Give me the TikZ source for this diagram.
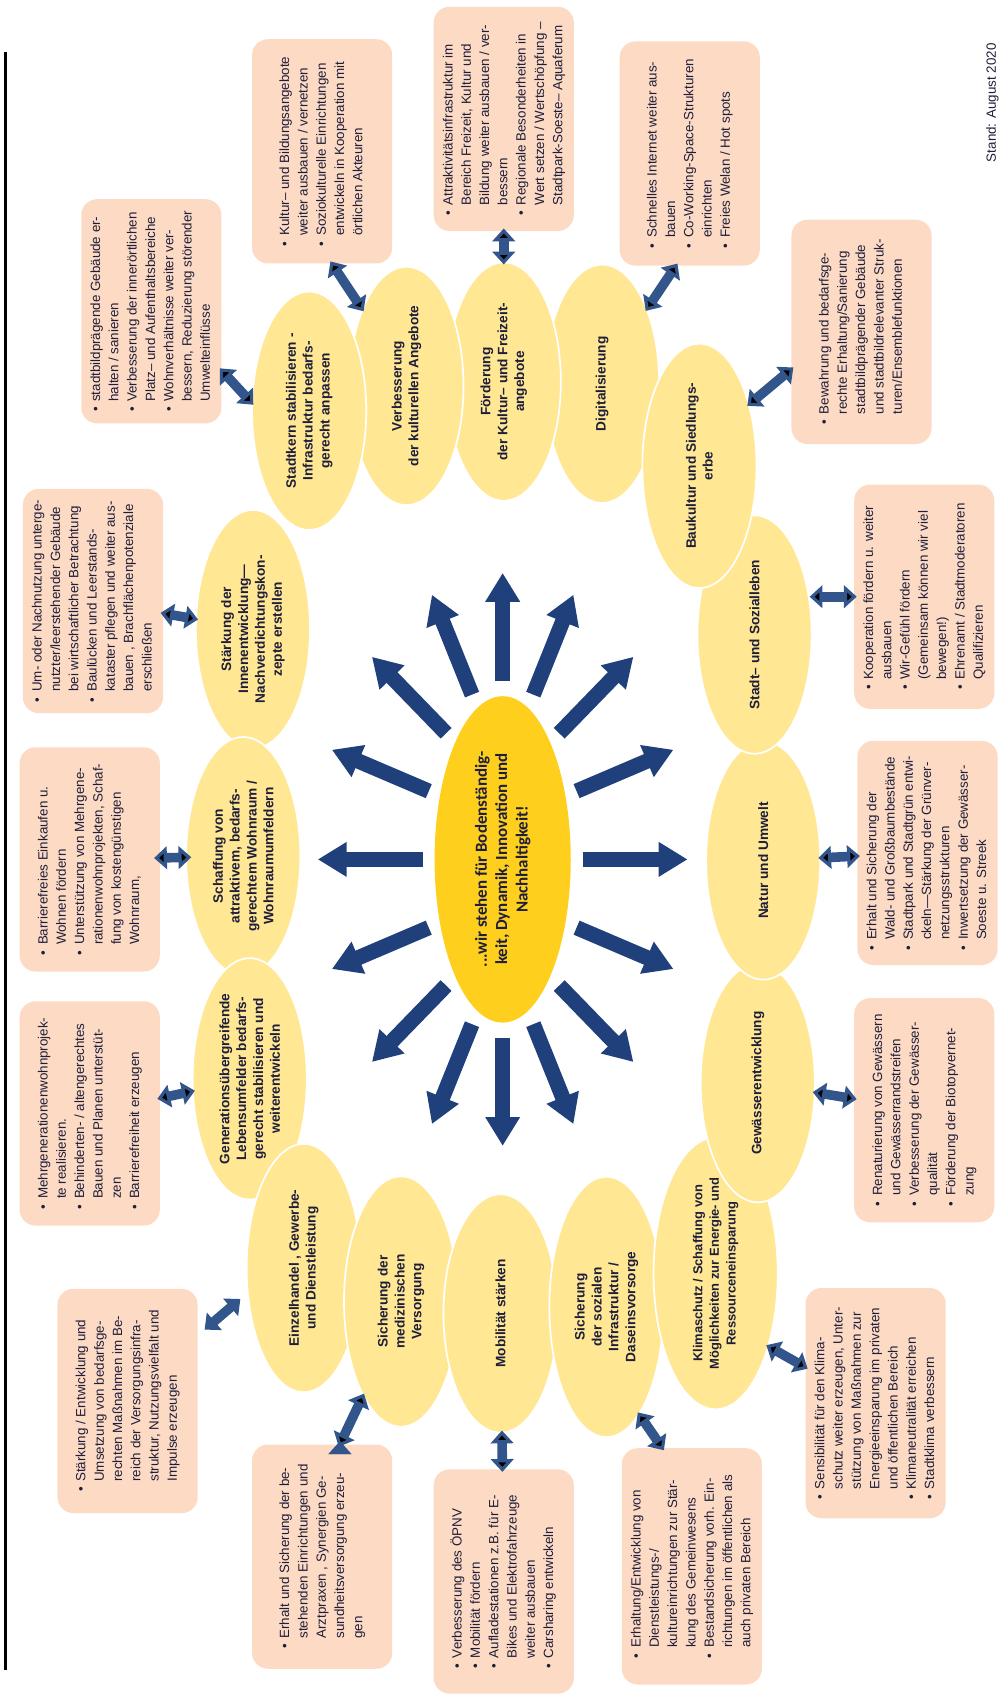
\documentclass[tikz,border=0pt]{standalone}
\usepackage{fontspec}
\setmainfont{Liberation Sans}
\newfontfamily\sunfont{Carlito}
\usetikzlibrary{shapes.geometric,arrows.meta,calc}

\definecolor{peach}{RGB}{252,218,196}
\definecolor{goalyellow}{RGB}{255,231,148}
\definecolor{sungold}{RGB}{255,207,30}
\definecolor{spokeblue}{RGB}{31,64,122}
\definecolor{linkblue}{RGB}{50,86,140}
\definecolor{ink}{RGB}{30,30,58}

\newenvironment{points}{\begin{tabular}{@{}l@{\hspace{4pt}}l@{}}}{\end{tabular}}
\newcommand{\bul}{\textbullet&}

\begin{document}
\begin{tikzpicture}[x=0.027cm, y=-0.027cm,
    goal/.style={ellipse, rotate=90, fill=goalyellow, draw=white, line width=1.2pt,
      minimum width=5.95cm, minimum height=2.85cm, inner sep=0pt, align=center,
      text=ink, font=\bfseries\fontsize{9.7}{12}\selectfont},
    todo/.style={rotate=90, fill=peach, rounded corners=0.4cm, minimum width=5.6cm,
      minimum height=3.5cm, inner sep=0pt, text=ink, font=\fontsize{9.5}{13}\selectfont},
    spoke/.style={draw=spokeblue, line width=0.38cm, -{Triangle[width=0.82cm,length=0.72cm]}},
    link/.style={draw=linkblue, line width=0.24cm, shorten <=-2pt, shorten >=-2pt,
      {Triangle[width=0.56cm,length=0.32cm]}-{Triangle[width=0.56cm,length=0.32cm]}}]
  \useasboundingbox (0,0) rectangle (925,1568);
  \draw[line width=1.8pt] (5,48) -- (5,1545);
  \node[rotate=90, text=ink, font=\fontsize{9.5}{11}\selectfont] (stand) at (918,95) {Stand: August 2020};

  % centre
  \node[ellipse, rotate=90, fill=sungold, minimum width=8.15cm, minimum height=3.4cm, inner sep=0pt,
    align=center, text=ink, font=\sunfont\bfseries\fontsize{12}{14.5}\selectfont] (mid) at (465,795)
    {...wir stehen für Bodenständig-\\keit, Dynamik, Innovation und\\Nachhaltigkeit!};
  \foreach \a in {0,22.5,...,337.5}
    \draw[spoke] ($(mid)+({74*sin(\a)},{-165*cos(\a)})$) -- ($(mid)+({171*sin(\a)},{-265*cos(\a)})$);

  % ring of goals
  \node[goal] (digital) at (557,355) {Digitalisierung};
  \node[goal] (freizeit) at (466,353) {Förderung\\der Kultur– und Freizeit-\\angebote};
  \node[goal] (kultur) at (376,357) {Verbesserung\\der kulturellen Angebote};
  \node[goal] (kern) at (286,380) {Stadtkern stabilisieren -\\Infrastruktur bedarfs-\\gerecht anpassen};
  \node[goal] (innen) at (234,582) {Stärkung der\\Innenentwicklung—\\Nachverdichtungskon-\\zepte erstellen};
  \node[goal] (wohnraum) at (225,792) {Schaffung von\\attraktivem, bedarfs-\\gerechtem Wohnraum /\\Wohnraumumfeldern};
  \node[goal] (generation) at (231,998) {Generationsübergreifende\\Lebensumfelder bedarfs-\\gerecht stabilisieren und\\weiterentwickeln};
  \node[goal, minimum width=6.2cm] (handel) at (281,1173) {Einzelhandel , Gewerbe-\\und Dienstleistung};
  \node[goal, minimum width=6.25cm] (medizin) at (371,1204) {Sicherung der\\medizinischen\\Versorgung};
  \node[goal] (mobil) at (463,1215) {Mobilität stärken};
  \node[goal, minimum width=6.5cm] (daseins) at (561,1209) {Sicherung\\der sozialen\\Infrastruktur /\\Daseinsvorsorge};
  \node[goal, minimum width=6.45cm, minimum height=3.1cm, font=\bfseries\fontsize{9.2}{11.8}\selectfont] (klima) at (662,1178)
    {Klimaschutz / Schaffung von\\Möglichkeiten zur Energie- und\\Ressourceneinsparung};
  \node[goal] (wasser) at (701,1002) {Gewässerentwicklung};
  \node[goal] (natur) at (706,796) {Natur und Umwelt};
  \node[goal] (sozial) at (698,587) {Stadt– und Sozialleben};
  \node[goal, minimum width=6.1cm] (baukultur) at (647,431) {Baukultur und Siedlungs-\\erbe};

  % measures
  \node[todo] (kern-m) at (140,288) {\begin{points}
    \bul stadtbildprägende Gebäude er-\\ & halten / sanieren\\
    \bul Verbesserung der innerörtlichen\\ & Platz– und Aufenthaltsbereiche\\
    \bul Wohnverhältnisse  weiter ver-\\ & bessern, Reduzierung störender\\ & Umwelteinflüsse
  \end{points}};
  \node[todo] (kultur-m) at (298,140) {\begin{points}
    \bul Kultur– und Bildungsangebote\\ & weiter ausbauen / vernetzen\\
    \bul Soziokulturelle Einrichtungen\\ & entwickeln  in Kooperation mit\\ & örtlichen Akteuren
  \end{points}};
  \node[todo] (freizeit-m) at (466,110) {\begin{points}
    \bul Attraktivitätsinfrastruktur im\\ & Bereich Freizeit, Kultur und\\ & Bildung weiter ausbauen / ver-\\ & bessern\\
    \bul Regionale Besonderheiten in\\ & Wert setzen / Wertschöpfung –\\ & Stadtpark-Soeste– Aquaferum
  \end{points}};
  \node[todo] (digital-m) at (638,142) {\begin{points}
    \bul Schnelles Internet weiter aus-\\ & bauen\\
    \bul Co-Working-Space-Strukturen\\ & einrichten\\
    \bul Freies Welan / Hot spots
  \end{points}};
  \node[todo] (baukultur-m) at (797,307) {\begin{points}
    \bul Bewahrung und bedarfsge-\\ & rechte Erhaltung/Sanierung\\ & stadtbildprägender Gebäude\\
    & und stadtbildrelevanter Struk-\\ & turen/Ensemblefunktionen
  \end{points}};
  \node[todo] (sozial-m) at (855,552) {\begin{points}
    \bul Kooperation fördern u. weiter\\ & ausbauen\\
    \bul Wir-Gefühl fördern\\ & (Gemeinsam können wir viel\\ & bewegen!)\\
    \bul Ehrenamt / Stadtmoderatoren\\ & Qualifizieren
  \end{points}};
  \node[todo] (natur-m) at (858,789) {\begin{points}
    \bul Erhalt und Sicherung der\\ & Wald- und Großbaumbestände\\
    \bul Stadtpark und Stadtgrün entwi-\\ & ckeln—Stärkung der Grünver-\\ & netzungsstrukturen\\
    \bul Inwertsetzung der Gewässer-\\ & Soeste u. Streek
  \end{points}};
  \node[todo] (wasser-m) at (855,1027) {\begin{points}
    \bul Renaturierung von Gewässern\\ & und Gewässerrandstreifen\\
    \bul Verbesserung der Gewässer-\\ & qualität\\
    \bul Förderung der Biotopvernet-\\ & zung
  \end{points}};
  \node[todo, minimum width=5.75cm] (klima-m) at (810,1298) {\begin{points}
    \bul Sensibilität für den Klima-\\ & schutz weiter erzeugen, Unter-\\ & stützung von Maßnahmen zur\\
    & Energieeinsparung im privaten\\ & und öffentlichen Bereich\\
    \bul Klimaneutralität erreichen\\
    \bul Stadtklima verbessern
  \end{points}};
  \node[todo, minimum width=5.9cm] (daseins-m) at (640,1449) {\begin{points}
    \bul Erhaltung/Entwicklung von\\ & Dienstleistungs-/\\ & kultureinrichtungen zur Stär-\\ & kung des  Gemeinwesens\\
    \bul Bestandsicherung vorh. Ein-\\ & richtungen im öffentlichen als\\ & auch privaten Bereich
  \end{points}};
  \node[todo] (mobil-m) at (466,1463) {\begin{points}
    \bul Verbesserung des ÖPNV\\
    \bul Mobilität fördern\\
    \bul Aufladestationen z.B. für E-\\ & Bikes und Elektrofahrzeuge\\ & weiter ausbauen\\
    \bul Carsharing entwickeln
  \end{points}};
  \node[todo] (medizin-m) at (298,1440) {\begin{points}
    \bul Erhalt und Sicherung der be-\\ & stehenden Einrichtungen und\\ & Arztpraxen , Synergien Ge-\\
    & sundheitsversorgung  erzeu-\\ & gen
  \end{points}};
  \node[todo] (handel-m) at (118,1296) {\begin{points}
    \bul Stärkung / Entwicklung und\\ & Umsetzung von bedarfsge-\\ & rechten Maßnahmen im Be-\\
    & reich der  Versorgungsinfra-\\ & struktur, Nutzungsvielfalt und\\ & Impulse erzeugen
  \end{points}};
  \node[todo] (generation-m) at (83,1030) {\begin{points}
    \bul Mehrgenerationenwohnprojek-\\ & te realisieren.\\
    \bul Behinderten- / altengerechtes\\ & Bauen und Planen unterstüt-\\ & zen\\
    \bul Barrierefreiheit erzeugen
  \end{points}};
  \node[todo] (wohnraum-m) at (83,795) {\begin{points}
    \bul Barrierefreies Einkaufen u.\\ & Wohnen  fördern\\
    \bul Unterstützung von Mehrgene-\\ & rationenwohnprojekten, Schaf-\\ & fung von kostengünstigen\\ & Wohnraum,
  \end{points}};
  \node[todo] (innen-m) at (86,556) {\begin{points}
    \bul Um- oder Nachnutzung unterge-\\ & nutzter/leerstehender Gebäude\\ & bei wirtschaftlicher Betrachtung\\
    \bul Baulücken und Leerstands-\\ & kataster pflegen und weiter aus-\\ & bauen , Brachflächenpotenziale\\ & erschließen
  \end{points}};

  \path[link]
    (kern-m.-130) edge (kern.82)
    (kultur-m.-175) edge (kultur.30)
    (freizeit-m) edge (freizeit)
    (digital-m.173) edge (digital.-31)
    (baukultur-m.118) edge (baukultur.-39)
    (sozial-m.north) edge (sozial-m.north -| sozial.south)
    (natur-m) edge (natur)
    (wasser-m) edge (wasser)
    (klima-m.63) edge (klima.-144)
    (daseins-m.14) edge (daseins.-163)
    (mobil-m) edge (mobil)
    (medizin-m.-9) edge (medizin.158)
    (generation-m) edge (generation)
    (wohnraum-m) edge[shorten <=-0.15cm, shorten >=-0.15cm] (wohnraum)
    (innen-m) edge (innen);
  \draw[link] ($(handel-m.-47)!0.18!(handel.114)$) -- ($(handel-m.-47)!0.82!(handel.114)$);
\end{tikzpicture}
\end{document}
